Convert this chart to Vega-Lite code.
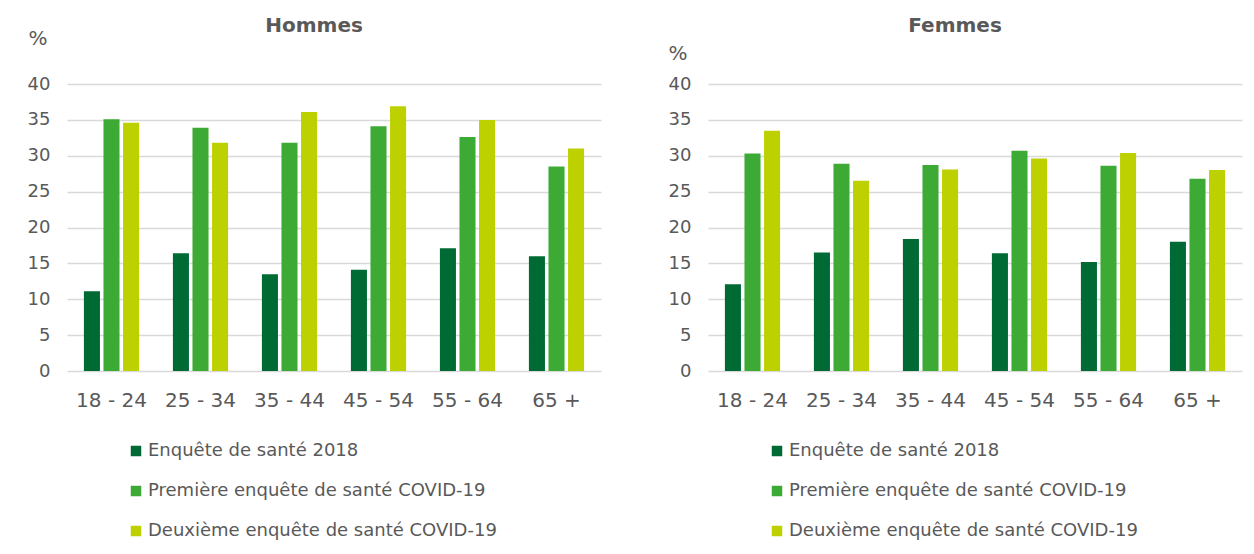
{
  "$schema": "https://vega.github.io/schema/vega-lite/v6.json",
  "padding": {"left": 27, "top": 16, "right": 5, "bottom": 5},
  "background": "white",
  "config": {
    "font": "DejaVu Sans",
    "view": {"stroke": null},
    "title": {"font": "DejaVu Sans", "fontSize": 20, "fontWeight": "bold", "color": "#595959", "anchor": "middle", "frame": "bounds"},
    "axis": {"labelColor": "#595959", "titleColor": "#595959", "labelFont": "DejaVu Sans", "titleFont": "DejaVu Sans"},
    "legend": {"labelFont": "DejaVu Sans"}
  },
  "data": {
    "values": [
      {"sexe": "Hommes", "age": "18 - 24", "enquete": "Enquête de santé 2018", "valeur": 11.1},
      {"sexe": "Hommes", "age": "18 - 24", "enquete": "Première enquête de santé COVID-19", "valeur": 35.1},
      {"sexe": "Hommes", "age": "18 - 24", "enquete": "Deuxième enquête de santé COVID-19", "valeur": 34.6},
      {"sexe": "Hommes", "age": "25 - 34", "enquete": "Enquête de santé 2018", "valeur": 16.4},
      {"sexe": "Hommes", "age": "25 - 34", "enquete": "Première enquête de santé COVID-19", "valeur": 33.9},
      {"sexe": "Hommes", "age": "25 - 34", "enquete": "Deuxième enquête de santé COVID-19", "valeur": 31.8},
      {"sexe": "Hommes", "age": "35 - 44", "enquete": "Enquête de santé 2018", "valeur": 13.5},
      {"sexe": "Hommes", "age": "35 - 44", "enquete": "Première enquête de santé COVID-19", "valeur": 31.8},
      {"sexe": "Hommes", "age": "35 - 44", "enquete": "Deuxième enquête de santé COVID-19", "valeur": 36.1},
      {"sexe": "Hommes", "age": "45 - 54", "enquete": "Enquête de santé 2018", "valeur": 14.1},
      {"sexe": "Hommes", "age": "45 - 54", "enquete": "Première enquête de santé COVID-19", "valeur": 34.1},
      {"sexe": "Hommes", "age": "45 - 54", "enquete": "Deuxième enquête de santé COVID-19", "valeur": 36.9},
      {"sexe": "Hommes", "age": "55 - 64", "enquete": "Enquête de santé 2018", "valeur": 17.1},
      {"sexe": "Hommes", "age": "55 - 64", "enquete": "Première enquête de santé COVID-19", "valeur": 32.6},
      {"sexe": "Hommes", "age": "55 - 64", "enquete": "Deuxième enquête de santé COVID-19", "valeur": 35.0},
      {"sexe": "Hommes", "age": "65 +", "enquete": "Enquête de santé 2018", "valeur": 16.0},
      {"sexe": "Hommes", "age": "65 +", "enquete": "Première enquête de santé COVID-19", "valeur": 28.5},
      {"sexe": "Hommes", "age": "65 +", "enquete": "Deuxième enquête de santé COVID-19", "valeur": 31.0},
      {"sexe": "Femmes", "age": "18 - 24", "enquete": "Enquête de santé 2018", "valeur": 12.1},
      {"sexe": "Femmes", "age": "18 - 24", "enquete": "Première enquête de santé COVID-19", "valeur": 30.3},
      {"sexe": "Femmes", "age": "18 - 24", "enquete": "Deuxième enquête de santé COVID-19", "valeur": 33.5},
      {"sexe": "Femmes", "age": "25 - 34", "enquete": "Enquête de santé 2018", "valeur": 16.5},
      {"sexe": "Femmes", "age": "25 - 34", "enquete": "Première enquête de santé COVID-19", "valeur": 28.9},
      {"sexe": "Femmes", "age": "25 - 34", "enquete": "Deuxième enquête de santé COVID-19", "valeur": 26.5},
      {"sexe": "Femmes", "age": "35 - 44", "enquete": "Enquête de santé 2018", "valeur": 18.4},
      {"sexe": "Femmes", "age": "35 - 44", "enquete": "Première enquête de santé COVID-19", "valeur": 28.7},
      {"sexe": "Femmes", "age": "35 - 44", "enquete": "Deuxième enquête de santé COVID-19", "valeur": 28.1},
      {"sexe": "Femmes", "age": "45 - 54", "enquete": "Enquête de santé 2018", "valeur": 16.4},
      {"sexe": "Femmes", "age": "45 - 54", "enquete": "Première enquête de santé COVID-19", "valeur": 30.7},
      {"sexe": "Femmes", "age": "45 - 54", "enquete": "Deuxième enquête de santé COVID-19", "valeur": 29.6},
      {"sexe": "Femmes", "age": "55 - 64", "enquete": "Enquête de santé 2018", "valeur": 15.2},
      {"sexe": "Femmes", "age": "55 - 64", "enquete": "Première enquête de santé COVID-19", "valeur": 28.6},
      {"sexe": "Femmes", "age": "55 - 64", "enquete": "Deuxième enquête de santé COVID-19", "valeur": 30.4},
      {"sexe": "Femmes", "age": "65 +", "enquete": "Enquête de santé 2018", "valeur": 18.0},
      {"sexe": "Femmes", "age": "65 +", "enquete": "Première enquête de santé COVID-19", "valeur": 26.8},
      {"sexe": "Femmes", "age": "65 +", "enquete": "Deuxième enquête de santé COVID-19", "valeur": 28.0}
    ]
  },
  "spacing": 67,
  "resolve": {"legend": {"color": "independent"}, "scale": {"color": "independent"}},
  "hconcat": [
    {
      "title": {"text": "Hommes", "offset": -8},
      "width": 534,
      "height": 287,
      "transform": [{"filter": "datum.sexe === 'Hommes'"}],
      "mark": {"type": "bar"},
      "encoding": {
        "x": {"field": "age", "type": "nominal", "sort": null,
              "scale": {"paddingInner": 0.38, "paddingOuter": 0.19},
              "axis": {"title": null, "labelAngle": 0, "labelFontSize": 20, "domain": false, "ticks": false, "labelPadding": 19}},
        "xOffset": {"field": "enquete", "type": "nominal",
              "sort": ["Enquête de santé 2018", "Première enquête de santé COVID-19", "Deuxième enquête de santé COVID-19"],
              "scale": {"paddingInner": 0.18}},
        "y": {"field": "valeur", "type": "quantitative",
              "scale": {"domain": [0, 40]},
              "axis": {"title": "%", "titleAngle": 0, "titleAlign": "left", "titleBaseline": "middle", "titleX": -39, "titleY": -46,
                       "titleFontSize": 20, "titleFontWeight": "normal",
                       "values": [0, 5, 10, 15, 20, 25, 30, 35, 40], "labelFontSize": 18, "labelPadding": 17,
                       "domain": false, "ticks": false, "gridColor": "#d9d9d9", "gridWidth": 1.5}},
        "color": {"field": "enquete", "type": "nominal",
              "scale": {"domain": ["Enquête de santé 2018", "Première enquête de santé COVID-19", "Deuxième enquête de santé COVID-19"],
                        "range": ["#006A35", "#3DAA35", "#BDD000"]},
              "legend": {"title": null, "orient": "none", "legendX": 60, "legendY": 358, "direction": "vertical",
                         "symbolType": "square", "symbolSize": 110, "symbolStrokeWidth": 0, "labelFontSize": 18, "labelColor": "#595959",
                         "labelLimit": 0, "rowPadding": 22, "labelOffset": 3}}
      }
    },
    {
      "title": {"text": "Femmes", "offset": 7},
      "width": 534,
      "height": 287,
      "transform": [{"filter": "datum.sexe === 'Femmes'"}],
      "mark": {"type": "bar"},
      "encoding": {
        "x": {"field": "age", "type": "nominal", "sort": null,
              "scale": {"paddingInner": 0.38, "paddingOuter": 0.19},
              "axis": {"title": null, "labelAngle": 0, "labelFontSize": 20, "domain": false, "ticks": false, "labelPadding": 19}},
        "xOffset": {"field": "enquete", "type": "nominal",
              "sort": ["Enquête de santé 2018", "Première enquête de santé COVID-19", "Deuxième enquête de santé COVID-19"],
              "scale": {"paddingInner": 0.18}},
        "y": {"field": "valeur", "type": "quantitative",
              "scale": {"domain": [0, 40]},
              "axis": {"title": "%", "titleAngle": 0, "titleAlign": "left", "titleBaseline": "middle", "titleX": -40, "titleY": -31,
                       "titleFontSize": 20, "titleFontWeight": "normal",
                       "values": [0, 5, 10, 15, 20, 25, 30, 35, 40], "labelFontSize": 18, "labelPadding": 17,
                       "domain": false, "ticks": false, "gridColor": "#d9d9d9", "gridWidth": 1.5}},
        "color": {"field": "enquete", "type": "nominal",
              "scale": {"domain": ["Enquête de santé 2018", "Première enquête de santé COVID-19", "Deuxième enquête de santé COVID-19"],
                        "range": ["#006A35", "#3DAA35", "#BDD000"]},
              "legend": {"title": null, "orient": "none", "legendX": 60, "legendY": 358, "direction": "vertical",
                         "symbolType": "square", "symbolSize": 110, "symbolStrokeWidth": 0, "labelFontSize": 18, "labelColor": "#595959",
                         "labelLimit": 0, "rowPadding": 22, "labelOffset": 3}}
      }
    }
  ]
}
